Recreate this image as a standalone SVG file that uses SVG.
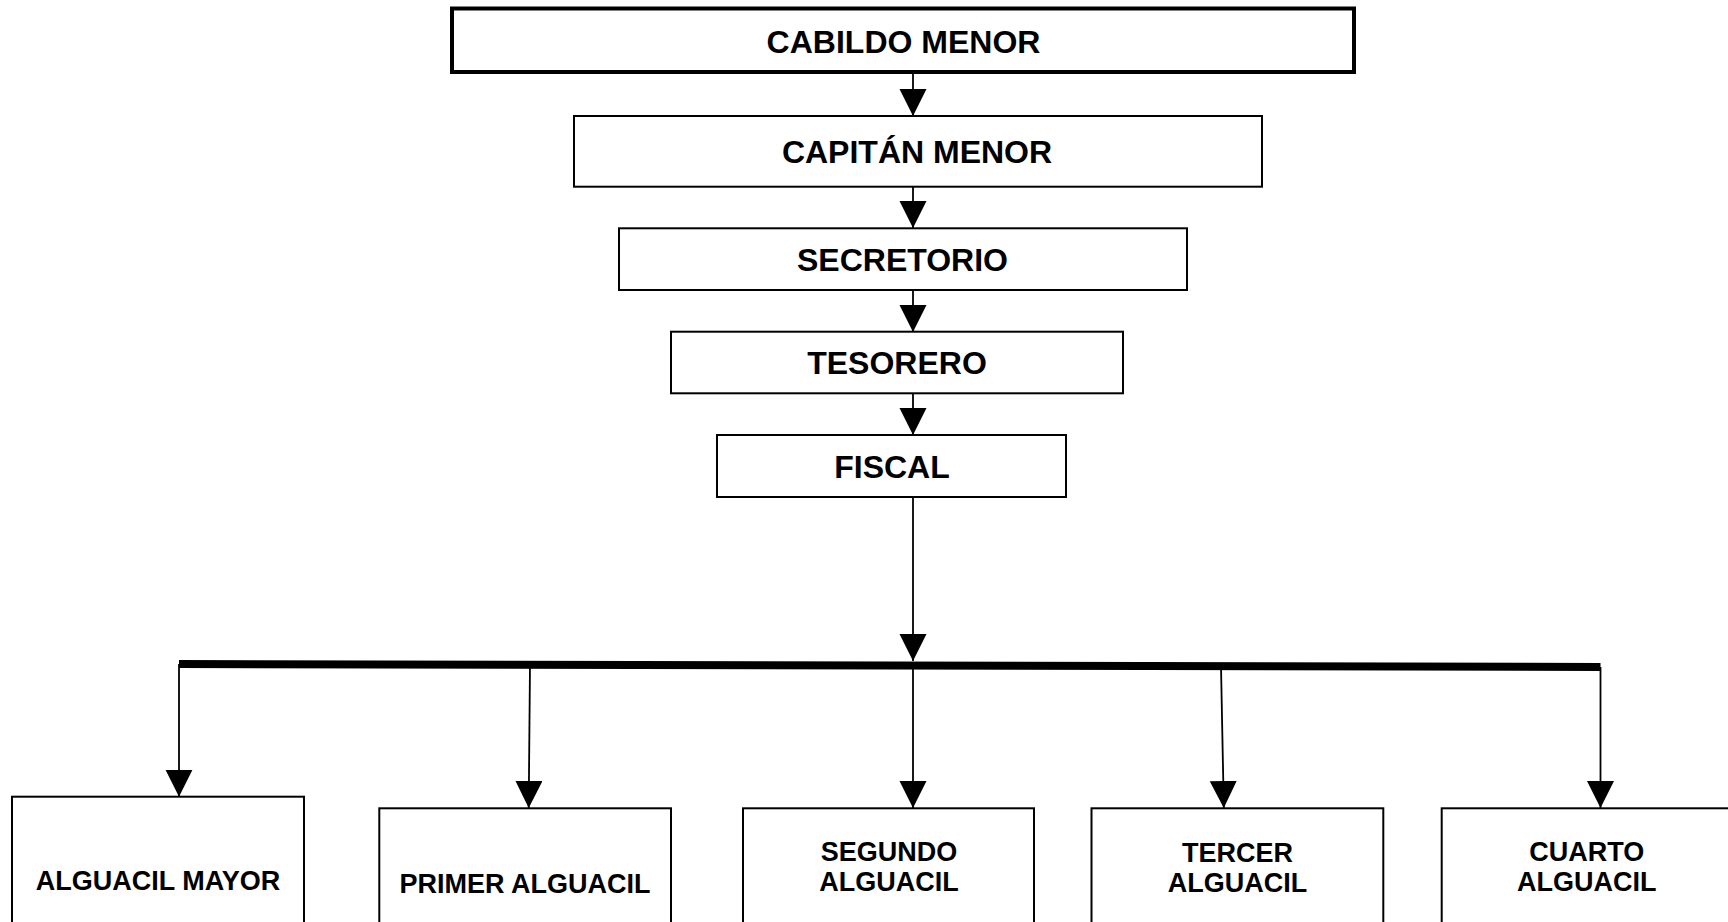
<svg xmlns="http://www.w3.org/2000/svg" width="1728" height="922" viewBox="0 0 1728 922">
<style>
.box{fill:#fff;stroke:#000;stroke-width:2}
.thick{stroke-width:4}
.t{font-family:"Liberation Sans",Arial,sans-serif;font-weight:bold;font-size:32px;fill:#000;text-anchor:middle}
.s{font-size:27px}
.c{stroke:#000;stroke-width:1.8;fill:none}
</style>
<defs>
<marker id="ah" markerUnits="userSpaceOnUse" markerWidth="28" markerHeight="28" refX="27" refY="13.5" orient="auto" viewBox="0 0 28 28">
<path d="M0,0 L27,13.5 L0,27 z" fill="#000"/>
</marker>
</defs>
<rect width="1728" height="922" fill="#fff"/>
<g id="connectors">
<line class="c" x1="913" y1="73" x2="913" y2="116" marker-end="url(#ah)"/>
<line class="c" x1="913" y1="187" x2="913" y2="228" marker-end="url(#ah)"/>
<line class="c" x1="913" y1="290" x2="913" y2="332" marker-end="url(#ah)"/>
<line class="c" x1="913" y1="393" x2="913" y2="435" marker-end="url(#ah)"/>
<line class="c" x1="913" y1="497" x2="913" y2="661" marker-end="url(#ah)"/>
<line x1="179" y1="664" x2="1600.5" y2="667" stroke="#000" stroke-width="8"/>
<line class="c" x1="179" y1="664" x2="179" y2="796.7" marker-end="url(#ah)"/>
<line class="c" x1="530" y1="665" x2="528.7" y2="808" marker-end="url(#ah)"/>
<line class="c" x1="913" y1="666" x2="913" y2="808" marker-end="url(#ah)"/>
<line class="c" x1="1221" y1="666" x2="1223.8" y2="808" marker-end="url(#ah)"/>
<line class="c" x1="1600.5" y1="667" x2="1600.5" y2="808" marker-end="url(#ah)"/>
</g>
<g id="cabildo-menor">
<rect class="box thick" x="452" y="8.5" width="902" height="63.5"/>
<text class="t" x="903.5" y="52.7">CABILDO MENOR</text>
</g>
<g id="capitan-menor">
<rect class="box" x="574" y="116" width="688" height="70.7"/>
<text class="t" x="917" y="163">CAPITÁN MENOR</text>
</g>
<g id="secretorio">
<rect class="box" x="619" y="228.3" width="568" height="61.7"/>
<text class="t" x="902.5" y="271">SECRETORIO</text>
</g>
<g id="tesorero">
<rect class="box" x="671" y="331.7" width="452" height="61.6"/>
<text class="t" x="897" y="374">TESORERO</text>
</g>
<g id="fiscal">
<rect class="box" x="717" y="435" width="349" height="62"/>
<text class="t" x="892" y="478">FISCAL</text>
</g>
<g id="alguacil-mayor">
<rect class="box" x="12" y="796.7" width="292" height="140"/>
<text class="t s" x="158" y="890">ALGUACIL MAYOR</text>
</g>
<g id="primer-alguacil">
<rect class="box" x="379.3" y="808.3" width="291.7" height="130"/>
<text class="t s" x="525" y="892.7">PRIMER ALGUACIL</text>
</g>
<g id="segundo-alguacil">
<rect class="box" x="743" y="808.3" width="291" height="130"/>
<text class="t s" x="889" y="861">SEGUNDO</text>
<text class="t s" x="889" y="891">ALGUACIL</text>
</g>
<g id="tercer-alguacil">
<rect class="box" x="1091.5" y="808.3" width="291.8" height="130"/>
<text class="t s" x="1237.4" y="861.7">TERCER</text>
<text class="t s" x="1237.4" y="891.7">ALGUACIL</text>
</g>
<g id="cuarto-alguacil">
<rect class="box" x="1441.7" y="808.3" width="290" height="130"/>
<text class="t s" x="1586.7" y="861">CUARTO</text>
<text class="t s" x="1586.7" y="891">ALGUACIL</text>
</g>
</svg>
